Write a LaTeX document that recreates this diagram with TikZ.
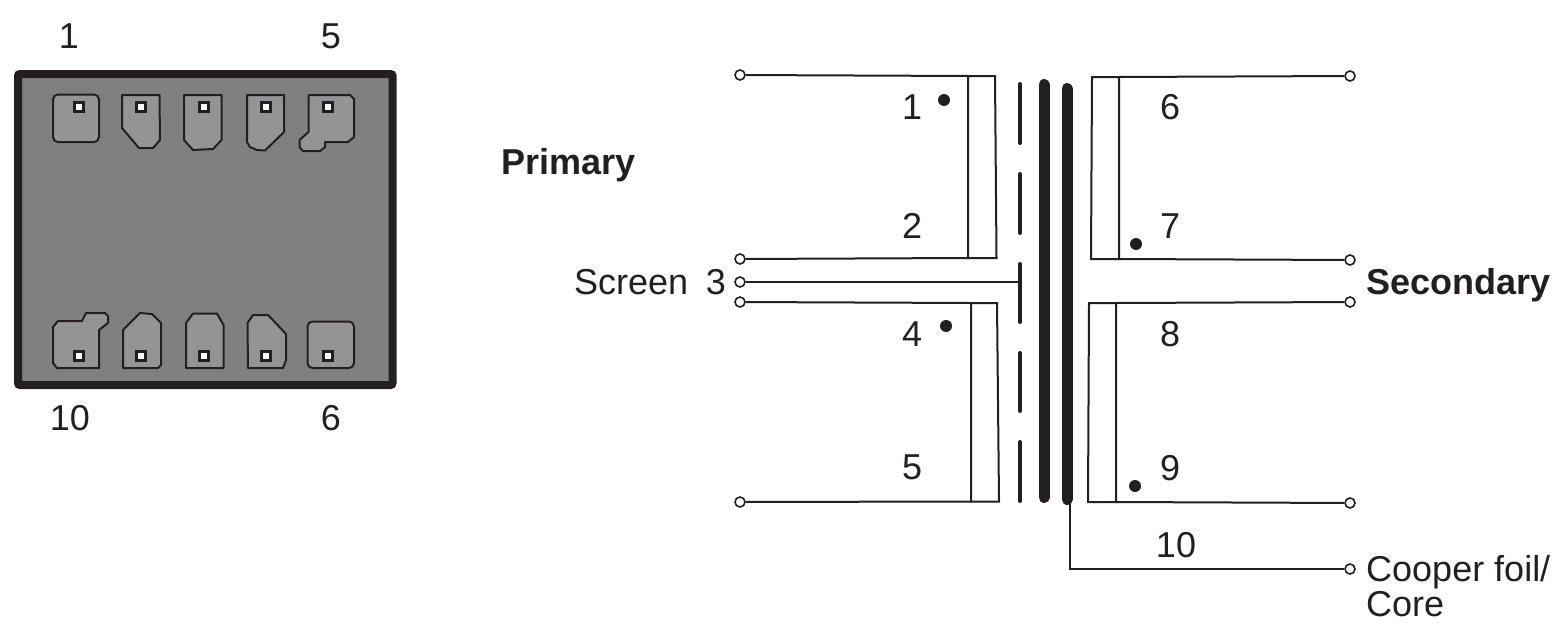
\documentclass[tikz,border=0pt]{standalone}
\usepackage{fontspec}
\setmainfont{Liberation Sans}
\definecolor{ink}{HTML}{231F20}
\definecolor{chipfill}{HTML}{808083}
\definecolor{padfill}{HTML}{949497}
\tikzset{
  lab/.style={font=\fontsize{36}{40}\selectfont,text=ink,inner sep=0pt,anchor=base},
  labl/.style={lab,anchor=base west},
  blab/.style={labl,font=\fontsize{36}{40}\selectfont\bfseries},
  term/.style={circle,draw=ink,fill=white,line width=1.6pt,minimum size=10pt,inner sep=0pt},
  dotm/.style={circle,fill=ink,minimum size=12pt,inner sep=0pt},
  wire/.style={draw=ink,line width=2pt,line join=miter},
  screenbar/.style={draw=ink,line width=4pt,line cap=round},
  corebar/.style={draw=ink,line width=11pt,line cap=round},
  pad/.style={draw=ink,fill=padfill,line width=2pt,line join=round},
  hole/.style={draw=ink,fill=white,line width=2.2pt,minimum size=9pt,inner sep=0pt,rectangle},
}
\begin{document}
\begin{tikzpicture}[x=1pt,y=-1pt]
\useasboundingbox (0,0) rectangle (1568,629);
% package outline
\draw[draw=ink,fill=chipfill,line width=8pt,rounded corners=2pt] (18,74) rectangle (392.5,385);
% top pads
\draw[pad,rounded corners=5pt] (53,94.5) rectangle (99,142);
\draw[pad] (122,95) -- (159.5,95) -- (160,140) -- (153,148) -- (139,148) -- (122,128) -- cycle;
\draw[pad] (184,95) -- (221.5,95) -- (221.5,140) -- (213,149) -- (193,150) -- (184,140) -- cycle;
\draw[pad] (247,95) -- (284,95) -- (284,132) -- (265,150.5) -- (257,150) -- (250,147) -- (247,142) -- cycle;
\draw[pad] (308.5,95) -- (350,95) -- (354,99) -- (354,137) -- (348,142) -- (325,142) -- (325,147) -- (320,151) -- (303,151) -- (299.5,147) -- (299.5,140) -- (308.5,132) -- cycle;
% bottom pads
\draw[pad] (58,321) -- (82,321) -- (86,313) -- (105,313) -- (108,316) -- (108,323) -- (99,330) -- (99,368) -- (57,368) -- (53,363) -- (53,327) -- cycle;
\draw[pad] (123,330) -- (140,313) -- (152,314) -- (161,323) -- (161,365) -- (158,368) -- (123,368) -- cycle;
\draw[pad] (186,323) -- (193,313.5) -- (217,313.5) -- (223.5,325) -- (223.5,368) -- (186,368) -- cycle;
\draw[pad] (247.5,323) -- (253,315) -- (268,315) -- (286,334) -- (286,360) -- (283,368) -- (248,368) -- cycle;
\draw[pad,rounded corners=5pt] (307.5,321.5) rectangle (354,368);
% pad openings
\foreach \i/\x in {a/79,b/141,c/204,d/266,e/328}{\node[hole] (top\i) at (\x,107) {};}
\foreach \i/\x in {a/79,b/141,c/204,d/266,e/328}{\node[hole] (bot\i) at (\x,356) {};}
% package labels
\node[lab] (p1) at (69,48) {1};
\node[lab] (p5) at (331,48) {5};
\node[lab] (p10) at (70,430) {10};
\node[lab] (p6) at (331,430) {6};
% terminals
\node[term] (L1) at (740,75) {};
\node[term] (L2) at (740,259) {};
\node[term] (L3) at (740,282) {};
\node[term] (L4) at (740,302) {};
\node[term] (L5) at (740,502) {};
\node[term] (R6) at (1350,76) {};
\node[term] (R7) at (1350,260) {};
\node[term] (R8) at (1350,302) {};
\node[term] (R9) at (1350,503) {};
\node[term] (R10) at (1350,569) {};
% winding corners
\coordinate (a1) at (968,76); \coordinate (a2) at (995,76);
\coordinate (a3) at (996.5,258); \coordinate (a4) at (968,258);
\coordinate (b1) at (971,303); \coordinate (b2) at (997,303);
\coordinate (b3) at (999,501.5); \coordinate (b4) at (971,501.5);
\coordinate (c1) at (1119,77); \coordinate (c2) at (1092,77);
\coordinate (c3) at (1091,259); \coordinate (c4) at (1119,259);
\coordinate (d1) at (1116,303); \coordinate (d2) at (1089,303);
\coordinate (d3) at (1088,502); \coordinate (d4) at (1116,502);
% screen and core
\coordinate (s0) at (1020,84); \coordinate (s1) at (1020,143);
\coordinate (s2) at (1020,174); \coordinate (s3) at (1020,233);
\coordinate (s4) at (1020,264); \coordinate (s5) at (1020,322);
\coordinate (s6) at (1020,353); \coordinate (s7) at (1020,411);
\coordinate (s8) at (1020,442); \coordinate (s9) at (1020,501);
\coordinate (sj) at (1020,282);
\coordinate (k1) at (1044,84.5); \coordinate (k2) at (1044,497.5);
\coordinate (k3) at (1067,88.5); \coordinate (k4) at (1067,499.5);
\coordinate (f1) at (1070,503); \coordinate (f2) at (1070,569);
\draw[screenbar] (s0) -- (s1);
\draw[screenbar] (s2) -- (s3);
\draw[screenbar] (s4) -- (s5);
\draw[screenbar] (s6) -- (s7);
\draw[screenbar] (s8) -- (s9);
\draw[corebar] (k1) -- (k2);
\draw[corebar] (k3) -- (k4);
% windings
\draw[wire] (a1) -- (a2) -- (a3) -- (a4) -- cycle;
\draw[wire] (L1) -- (a1);
\draw[wire] (a4) -- (L2);
\draw[wire] (L3) -- (sj);
\draw[wire] (b1) -- (b2) -- (b3) -- (b4) -- cycle;
\draw[wire] (L4) -- (b1);
\draw[wire] (b4) -- (L5);
\draw[wire] (c1) -- (c2) -- (c3) -- (c4) -- cycle;
\draw[wire] (R6) -- (c1);
\draw[wire] (c4) -- (R7);
\draw[wire] (d1) -- (d2) -- (d3) -- (d4) -- cycle;
\draw[wire] (R8) -- (d1);
\draw[wire] (d4) -- (R9);
\draw[wire] (f1) -- (f2) -- (R10);
% polarity dots
\node[dotm] (dA) at (944,100) {};
\node[dotm] (dB) at (1136,244) {};
\node[dotm] (dC) at (946,326) {};
\node[dotm] (dD) at (1135,486) {};
% labels
\node[lab] (n1) at (912,119) {1};
\node[lab] (n2) at (912,238) {2};
\node[lab] (n4) at (912,346) {4};
\node[lab] (n5) at (912,479) {5};
\node[lab] (n6) at (1170,119) {6};
\node[lab] (n7) at (1170,238) {7};
\node[lab] (n8) at (1170,346) {8};
\node[lab] (n9) at (1170,480) {9};
\node[lab] (n10) at (1176,557) {10};
\node[lab] (n3) at (716,294) {3};
\node[labl] (screen) at (574,294) {Screen};
\node[blab] (prim) at (501,174) {Primary};
\node[blab] (sec) at (1366,294) {Secondary};
\node[labl] (foil) at (1366,581) {Cooper foil/};
\node[labl] (corelab) at (1366,616) {Core};
\end{tikzpicture}
\end{document}
